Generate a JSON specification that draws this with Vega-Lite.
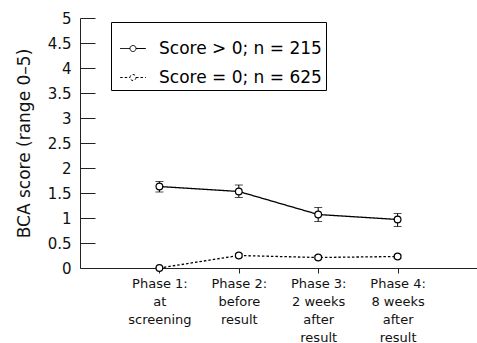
{
  "$schema": "https://vega.github.io/schema/vega-lite/v6.json",
  "width": 397,
  "height": 250,
  "autosize": "none",
  "padding": {"left": 80, "top": 18, "right": 0, "bottom": 75},
  "background": "white",
  "config": {
    "font": "DejaVu Sans",
    "view": {"stroke": null},
    "axis": {"domainColor": "#222", "tickColor": "#222", "labelColor": "#111", "titleColor": "#111", "grid": false}
  },
  "data": {
    "values": [
      {"series": "Score > 0; n = 215", "phase": "Phase 1:|at|screening", "mean": 1.63, "lo": 1.52, "hi": 1.73},
      {"series": "Score > 0; n = 215", "phase": "Phase 2:|before|result", "mean": 1.53, "lo": 1.41, "hi": 1.66},
      {"series": "Score > 0; n = 215", "phase": "Phase 3:|2 weeks|after|result", "mean": 1.07, "lo": 0.93, "hi": 1.21},
      {"series": "Score > 0; n = 215", "phase": "Phase 4:|8 weeks|after|result", "mean": 0.97, "lo": 0.83, "hi": 1.09},
      {"series": "Score = 0; n = 625", "phase": "Phase 1:|at|screening", "mean": 0.0, "lo": 0.0, "hi": 0.0},
      {"series": "Score = 0; n = 625", "phase": "Phase 2:|before|result", "mean": 0.25, "lo": 0.22, "hi": 0.28},
      {"series": "Score = 0; n = 625", "phase": "Phase 3:|2 weeks|after|result", "mean": 0.21, "lo": 0.18, "hi": 0.24},
      {"series": "Score = 0; n = 625", "phase": "Phase 4:|8 weeks|after|result", "mean": 0.23, "lo": 0.2, "hi": 0.26}
    ]
  },
  "encoding": {
    "x": {
      "field": "phase", "type": "nominal", "sort": null,
      "scale": {"type": "point", "padding": 1},
      "axis": {"title": null, "labelAngle": 0, "labelExpr": "split(datum.label, '|')", "labelFontSize": 13, "labelLineHeight": 18, "labelPadding": 4, "tickSize": 5, "labelBaseline": "top"}
    },
    "y": {
      "field": "mean", "type": "quantitative",
      "scale": {"domain": [0, 5], "nice": false},
      "axis": {"title": "BCA score (range 0–5)", "titleFontSize": 17, "titleFontWeight": "normal", "titlePadding": 14, "values": [0, 0.5, 1, 1.5, 2, 2.5, 3, 3.5, 4, 4.5, 5], "labelFontSize": 15, "tickSize": -15, "labelPadding": 24, "labelExpr": "datum.value"}
    }
  },
  "layer": [
    {
      "mark": {"type": "line", "color": "black", "strokeWidth": 1.3},
      "encoding": {
        "strokeDash": {
          "field": "series", "type": "nominal",
          "scale": {"domain": ["Score > 0; n = 215", "Score = 0; n = 625"], "range": [[1, 0], [2.5, 2]]},
          "legend": {
            "title": "\u2003\u2003\u2003\u2003\u2003\u2003\u2003\u2003\u2003\u2003\u2003\u2003\u2003\u2003\u2003\u2003\u2003\u2003\u2003\u2003\u2003\u2003",
            "titleFontSize": 10, "titlePadding": 4, "titleLimit": 400,
            "orient": "none", "legendX": 31, "legendY": 4,
            "strokeColor": "black", "padding": 4, "labelFontSize": 17, "labelColor": "black", "labelLimit": 400,
            "symbolType": "M-1.6,0L-0.375,0M0.375,0L1.6,0M0.375,0A0.375,0.375 0 1 1 -0.375,0A0.375,0.375 0 1 1 0.375,0",
            "symbolSize": 256, "symbolStrokeColor": "black", "symbolFillColor": "white", "symbolStrokeWidth": 1,
            "symbolOffset": 9.5, "labelOffset": 17.5, "rowPadding": 11
          }
        }
      }
    },
    {
      "mark": {"type": "rule", "color": "black", "strokeWidth": 1},
      "encoding": {"y": {"field": "lo", "type": "quantitative"}, "y2": {"field": "hi"}}
    },
    {
      "mark": {"type": "tick", "color": "black", "size": 8, "thickness": 1},
      "encoding": {"y": {"field": "lo", "type": "quantitative"}}
    },
    {
      "mark": {"type": "tick", "color": "black", "size": 8, "thickness": 1},
      "encoding": {"y": {"field": "hi", "type": "quantitative"}}
    },
    {
      "mark": {"type": "point", "shape": "circle", "filled": false, "fill": "white", "fillOpacity": 1, "stroke": "black", "strokeWidth": 1.2, "size": 45, "opacity": 1},
      "encoding": {"detail": {"field": "series", "type": "nominal"}}
    }
  ]
}
